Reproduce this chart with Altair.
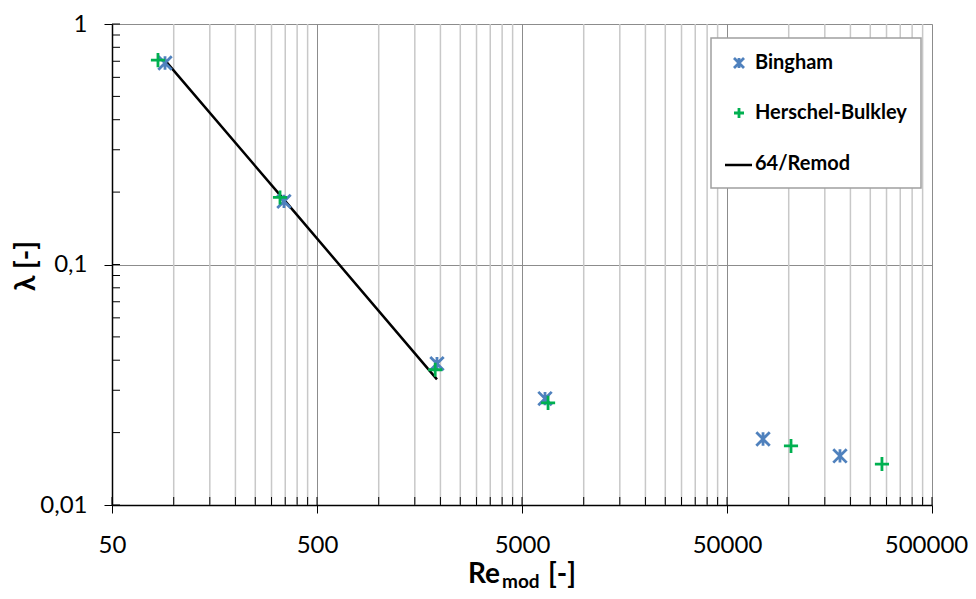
import altair as alt
import pandas as pd

# Data
bingham_re = [90.7, 345, 1924, 6475, 74950, 177850]
bingham_lam = [0.688, 0.183, 0.0387, 0.0277, 0.0188, 0.0160]
hb_re = [83.8, 330, 1886, 6700, 102600, 285000]
hb_lam = [0.708, 0.190, 0.0365, 0.0266, 0.0176, 0.0148]
line_re = [90.7, 345, 1924]
line_lam = [0.706, 0.186, 0.0333]

x_major = [50, 500, 5000, 50000, 500000]
x_minor = [b * k for b in [50, 500, 5000, 50000] for k in range(2, 10)]
y_major = [0.01, 0.1, 1]
y_minor = [b * k for b in [0.01, 0.1] for k in range(2, 10)]

W, H = 820, 481
FONT = "Lato"

xs = alt.Scale(type="log", domain=[50, 500000], nice=False)
ys = alt.Scale(type="log", domain=[0.01, 1], nice=False)

STAR = "M-1,-1L1,1M-1,1L1,-1M0,-1L0,1"
PLUS = "M-1,0L1,0M0,-1L0,1"
BLUE = "#4f81bd"
GREEN = "#00b050"

df_b = pd.DataFrame({"x": bingham_re, "y": bingham_lam})
df_h = pd.DataFrame({"x": hb_re, "y": hb_lam})
df_l = pd.DataFrame({"x": line_re, "y": line_lam})
df_xminor = pd.DataFrame({"x": x_minor})
df_xall = pd.DataFrame({"x": x_minor + x_major})
df_yall = pd.DataFrame({"y": y_minor + y_major})
one = pd.DataFrame({"a": [0]})

# minor vertical gridlines
minor_grid = alt.Chart(df_xminor).mark_rule(color="#c8c8c8", strokeWidth=1.5).encode(
    x=alt.X("x:Q", scale=xs),
    y=alt.value(0), y2=alt.value(H),
)

# base layer with axes + major grid
base = alt.Chart(df_l).mark_line(color="black", strokeWidth=2.5).encode(
    x=alt.X("x:Q", scale=xs, axis=alt.Axis(
        values=x_major, title=None, format="d", grid=True, gridColor="#8c8c8c", gridWidth=1,
        domainColor="black", domainWidth=1.5, tickColor="black", tickSize=8, tickWidth=1,
        labelFont=FONT, labelFontSize=24, labelColor="black", labelPadding=20,
        labelOffset={"condition": {"test": "datum.value === 500000", "value": -6}, "value": 0},
        labelFlush=False)),
    y=alt.Y("y:Q", scale=ys, axis=alt.Axis(
        values=y_major, title=None, grid=True, gridColor="#8c8c8c", gridWidth=1,
        labelExpr="replace(format(datum.value, '~g'), '.', ',')",
        domainColor="black", domainWidth=1.5, tickColor="black", tickSize=8, tickWidth=1,
        labelFont=FONT, labelFontSize=24, labelColor="black", labelPadding=17)),
)

# inside ticks
xticks_in = alt.Chart(df_xall).mark_rule(color="black", strokeWidth=1).encode(
    x=alt.X("x:Q", scale=xs), y=alt.value(H - 8), y2=alt.value(H))
yticks_in = alt.Chart(df_yall).mark_rule(color="black", strokeWidth=1).encode(
    y=alt.Y("y:Q", scale=ys), x=alt.value(0), x2=alt.value(8))

pts_b = alt.Chart(df_b).mark_point(shape=STAR, filled=False, color=BLUE, size=180, strokeWidth=2.8, opacity=1).encode(
    x=alt.X("x:Q", scale=xs), y=alt.Y("y:Q", scale=ys))
pts_h = alt.Chart(df_h).mark_point(shape=PLUS, filled=False, color=GREEN, size=200, strokeWidth=2.8, opacity=1).encode(
    x=alt.X("x:Q", scale=xs), y=alt.Y("y:Q", scale=ys))

# legend
lg_box = alt.Chart(one).mark_rect(fill="white", stroke="#a0a0a0", strokeWidth=1.5).encode(
    x=alt.value(599), x2=alt.value(809), y=alt.value(14), y2=alt.value(164))
lg_b = alt.Chart(one).mark_point(shape=STAR, filled=False, color=BLUE, size=100, strokeWidth=2.8, opacity=1).encode(
    x=alt.value(627), y=alt.value(39))
lg_h = alt.Chart(one).mark_point(shape=PLUS, filled=False, color=GREEN, size=100, strokeWidth=2.8, opacity=1).encode(
    x=alt.value(627), y=alt.value(89))
lg_l = alt.Chart(one).mark_rule(color="black", strokeWidth=2.5).encode(
    x=alt.value(613), x2=alt.value(640), y=alt.value(141))
lg_t = [
    alt.Chart(one).mark_text(text=t, font=FONT, fontWeight="bold", fontSize=20, align="left",
                             baseline="middle", color="black").encode(x=alt.value(643), y=alt.value(yy))
    for t, yy in [("Bingham", 39), ("Herschel-Bulkley", 89), ("64/Remod", 140)]
]

# axis titles
ytitle = alt.Chart(one).mark_text(text="λ [-]", font=FONT, fontWeight="bold", fontSize=28, angle=270,
                                  align="center", baseline="middle", color="black").encode(
    x=alt.value(-85), y=alt.value(242))
xt1 = alt.Chart(one).mark_text(text="Re", font=FONT, fontWeight="bold", fontSize=28, align="left",
                               baseline="alphabetic", color="black").encode(x=alt.value(356), y=alt.value(559))
xt2 = alt.Chart(one).mark_text(text="mod", font=FONT, fontWeight="bold", fontSize=19, align="left",
                               baseline="alphabetic", color="black").encode(x=alt.value(390), y=alt.value(564))
xt3 = alt.Chart(one).mark_text(text="[-]", font=FONT, fontWeight="bold", fontSize=28, align="left",
                               baseline="alphabetic", color="black").encode(x=alt.value(436), y=alt.value(559))

chart = alt.layer(
    minor_grid, base, xticks_in, yticks_in, pts_b, pts_h,
    lg_box, lg_b, lg_h, lg_l, *lg_t, ytitle, xt1, xt2, xt3
).properties(
    width=W, height=H,
    autosize=alt.AutoSizeParams(type="none"),
    padding={"left": 104, "top": 16, "right": 36, "bottom": 86},
).configure_view(stroke=None).configure(background="white")

chart.save("out.html", embed_options={"renderer": "svg", "actions": False})
